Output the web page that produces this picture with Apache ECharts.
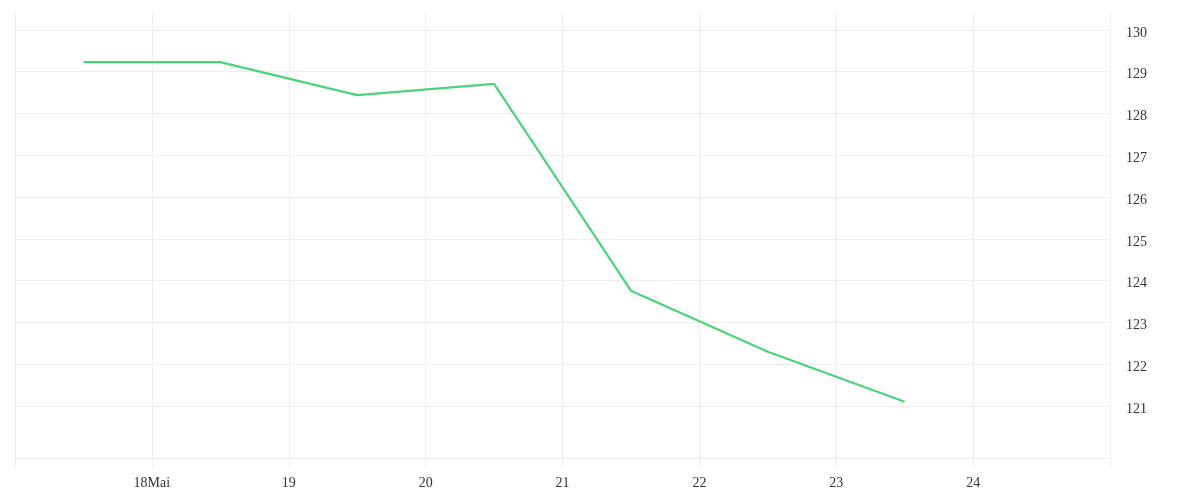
<!DOCTYPE html>
<html>
<head>
<meta charset="utf-8">
<script src="https://cdn.jsdelivr.net/npm/echarts@6/dist/echarts.min.js"></script>
<style>html,body{margin:0;padding:0;background:#fff}#c{width:1200px;height:500px}</style>
</head>
<body>
<div id="c"></div>
<script>
const DAY = 86400000;
const dates = ['2024-05-17T12:00:00Z','2024-05-18T12:00:00Z','2024-05-19T12:00:00Z','2024-05-20T12:00:00Z','2024-05-21T12:00:00Z','2024-05-22T12:00:00Z','2024-05-23T12:00:00Z'];
const values = [129.23, 129.23, 128.44, 128.71, 123.76, 122.30, 121.10];
const xTickLabels = ['', '18Mai', '19', '20', '21', '22', '23', '24', ''];
const yTicks = [121, 122, 123, 124, 125, 126, 127, 128, 129, 130];

const xMin = Date.UTC(2024, 4, 17);
const xMax = Date.UTC(2024, 4, 25);
const gridColor = '#eeeeee';
const font = '"Liberation Serif", "DejaVu Serif", serif';

const chart = echarts.init(document.getElementById('c'));
chart.setOption({
  animation: false,
  grid: { left: 15, right: 90, top: 12, bottom: 42, containLabel: false },
  xAxis: {
    type: 'value',
    min: xMin,
    max: xMax,
    interval: DAY,
    axisLine: { show: true, lineStyle: { color: gridColor, width: 1 } },
    axisTick: { show: true, length: 10, lineStyle: { color: gridColor } },
    splitLine: { show: true, lineStyle: { color: gridColor, width: 1 } },
    axisLabel: {
      margin: 18,
      color: '#333',
      fontFamily: font,
      fontSize: 14,
      formatter: function (v) {
        const i = Math.round((v - xMin) / DAY);
        return xTickLabels[i] || '';
      }
    }
  },
  yAxis: {
    type: 'value',
    position: 'right',
    min: 119.755,
    max: 130.43,
    axisLine: { show: false },
    axisTick: { show: false, customValues: yTicks },
    splitLine: { show: true, lineStyle: { color: gridColor, width: 1 } },
    axisLabel: {
      customValues: yTicks,
      margin: 16,
      color: '#333',
      fontFamily: font,
      fontSize: 14,
      showMinLabel: true,
      showMaxLabel: true,
      formatter: function (v) { return '{a|' + v + '}'; },
      rich: {
        a: { color: '#333', fontFamily: font, fontSize: 14, padding: [6, 0, 0, 0] }
      }
    }
  },
  series: [{
    type: 'line',
    data: dates.map((d, i) => [Date.parse(d), values[i]]),
    showSymbol: false,
    symbol: 'none',
    lineStyle: { color: '#4cd27a', width: 2.2 },
    itemStyle: { color: '#4cd27a' }
  }]
});
</script>
</body>
</html>
